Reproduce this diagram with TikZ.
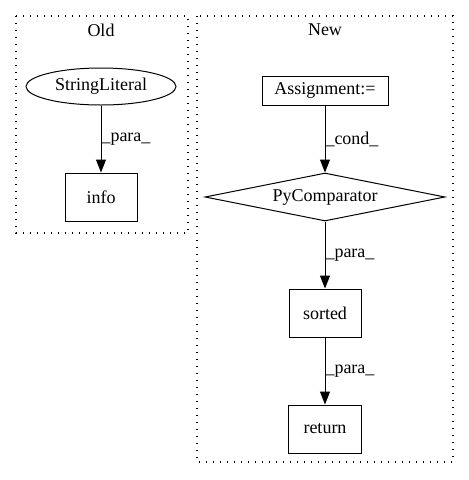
\documentclass[tikz,border=0pt]{standalone}
\usepackage{fontspec}
\setmainfont{Liberation Serif}
\usetikzlibrary{arrows.meta,shapes.geometric}
\begin{document}
\begin{tikzpicture}[x=1pt,y=-1pt,
  every node/.style={font=\fontsize{18}{20}\selectfont},
  cluster/.style={draw,line width=1.2pt,dash pattern=on 1.3pt off 5.7pt},
  boxnode/.style={draw,line width=1pt,rectangle,inner sep=0pt},
  edge/.style={draw,line width=1pt,-{Triangle[length=13pt,width=10pt]}},
  elabel/.style={anchor=west,inner sep=0pt}]
\useasboundingbox (0,0) rectangle (469,480);
% clusters
\draw[cluster] (16,16) rectangle (188,233);
\draw[cluster] (197,16) rectangle (453,462);
\node (oldlab) at (101,30) {Old};
\node (newlab) at (325,30) {New};
% Old
\node[draw,line width=1pt,ellipse,minimum width=150pt,minimum height=37pt,inner sep=0pt] (sl) at (101,86.5) {StringLiteral};
\node[boxnode,minimum width=72pt,minimum height=48pt] (info) at (101,197) {info};
\draw[edge] (sl) -- (info) node[elabel,midway] {\_para\_};
% New
\node[boxnode,minimum width=126pt,minimum height=29pt] (asg) at (325,90.5) {Assignment:=};
\node[draw,line width=1pt,diamond,aspect=5,minimum width=240pt,minimum height=48pt,inner sep=0pt] (pyc) at (325,197) {PyComparator};
\node[boxnode,minimum width=72pt,minimum height=48pt] (sorted) at (325,313) {sorted};
\node[boxnode,minimum width=73pt,minimum height=48pt] (ret) at (325,429) {return};
\draw[edge] (asg) -- (pyc) node[elabel,midway] {\_cond\_};
\draw[edge] (pyc) -- (sorted) node[elabel,midway] {\_para\_};
\draw[edge] (sorted) -- (ret) node[elabel,midway] {\_para\_};
\end{tikzpicture}
\end{document}
